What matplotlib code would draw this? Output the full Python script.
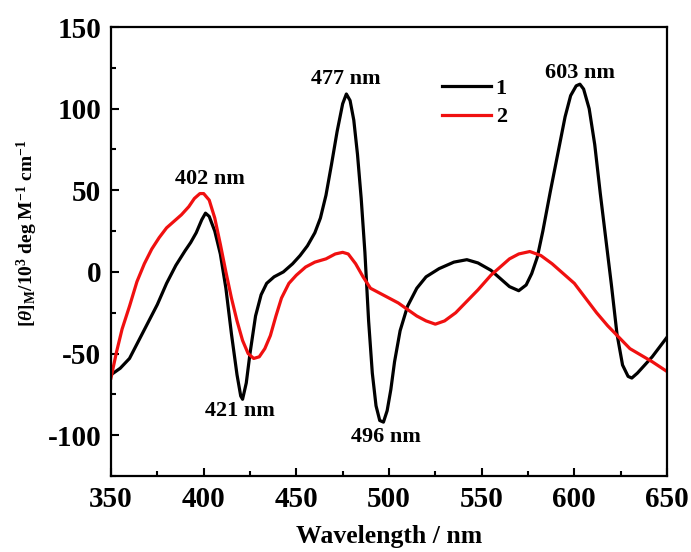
import matplotlib
matplotlib.use("Agg")
import matplotlib.pyplot as plt
from matplotlib.ticker import MultipleLocator

# CD spectra: wavelength (nm) vs molar ellipticity (10^3 deg M^-1 cm^-1)
wl_1 = [350, 355, 360, 365, 370, 375, 380, 385, 390, 393, 396, 399, 401, 403,
        406, 409, 412, 415, 418, 420, 421, 423, 425, 428, 431, 434, 438, 443,
        448, 452, 456, 460, 463, 466, 469, 472, 475, 477, 479, 481, 483, 485,
        487, 489, 491, 493, 495, 497, 499, 501, 503, 506, 510, 515, 520, 527,
        535, 542, 548, 555, 560, 565, 570, 574, 577, 580, 583, 587, 591, 595,
        598, 601, 603, 605, 608, 611, 614, 617, 620, 623, 626, 629, 631, 634,
        638, 642, 646, 650]
theta_1 = [-63, -59, -53, -42, -31, -20, -7, 4, 13, 18, 24, 32, 36, 34,
           25, 11, -10, -38, -63, -76, -78, -68, -50, -27, -14, -7, -3, 0,
           5, 10, 16, 24, 33, 47, 66, 86, 103, 109, 105, 93, 72, 45,
           12, -30, -62, -82, -91, -92, -85, -72, -55, -36, -21, -10, -3, 2,
           6, 7.5, 5.5, 1, -4, -9, -11.5, -8, -1, 9, 25, 49, 72, 95,
           108, 114, 115, 112, 100, 78, 48, 20, -8, -38, -57, -64, -65, -62,
           -57, -52, -46, -40]

wl_2 = [350, 353, 356, 360, 364, 368, 372, 376, 380, 384, 388, 392, 395, 398,
        400, 403, 406, 409, 412, 415, 418, 421, 424, 427, 430, 433, 436, 439,
        442, 446, 450, 455, 460, 466, 471, 475, 478, 482, 486, 490, 495, 500,
        505, 510, 515, 520, 525, 530, 536, 542, 548, 555, 560, 565, 570, 576,
        582, 588, 594, 600, 606, 612, 618, 624, 630, 636, 642, 650]
theta_2 = [-65, -49, -35, -21, -6, 5, 14, 21, 27, 31, 35, 40, 45, 48,
           48, 44, 33, 17, 0, -16, -30, -42, -50, -53, -52, -47, -39, -27,
           -16, -7, -2, 3, 6, 8, 11, 12, 11, 5, -3, -10, -13, -16,
           -19, -23, -27, -30, -32, -30, -25, -18, -11, -2, 3, 8, 11, 12.5,
           10, 5, -1, -7, -16, -25, -33, -40, -47, -51, -55, -61]

series_labels = ["1", "2"]

peak_labels = ["402 nm", "421 nm", "477 nm", "496 nm", "603 nm"]
peak_pos = [(403.5, 57), (419.5, -85), (476.5, 118), (498.5, -101), (603, 122)]

plt.rcParams["font.family"] = ["Liberation Serif", "DejaVu Serif"]
plt.rcParams["font.weight"] = "bold"
plt.rcParams["axes.unicode_minus"] = False
plt.rcParams["mathtext.fontset"] = "custom"
plt.rcParams["mathtext.rm"] = "Liberation Serif:bold"
plt.rcParams["mathtext.bf"] = "Liberation Serif:bold"
plt.rcParams["mathtext.it"] = "Liberation Serif:italic:bold"

fig = plt.figure(figsize=(6.91, 5.52), dpi=100)
ax = fig.add_axes([0.1606, 0.1377, 0.8047, 0.8133])

ax.plot(wl_1, theta_1, color="black", lw=2.3, label=series_labels[0],
        solid_joinstyle="round")
ax.plot(wl_2, theta_2, color="#f01010", lw=2.3, label=series_labels[1],
        solid_joinstyle="round")

ax.set_xlim(350, 650)
ax.set_ylim(-125, 150)
ax.xaxis.set_major_locator(MultipleLocator(50))
ax.xaxis.set_minor_locator(MultipleLocator(25))
ax.yaxis.set_major_locator(MultipleLocator(50))
ax.yaxis.set_minor_locator(MultipleLocator(25))
ax.tick_params(which="both", direction="in", top=False, right=False,
               width=1.5)
ax.tick_params(which="major", length=6, labelsize=21, pad=7)
ax.tick_params(which="minor", length=3.5)
for lab in ax.get_xticklabels() + ax.get_yticklabels():
    lab.set_fontweight("bold")
for sp in ax.spines.values():
    sp.set_linewidth(1.6)

ax.set_xlabel("Wavelength / nm", fontsize=18.5, fontweight="bold", labelpad=9)
ax.set_ylabel(r"$[\mathit{\theta}]_{\mathrm{M}}$/10$^{3}$ deg M$^{-1}$ cm$^{-1}$",
              fontsize=14, fontweight="bold")
ax.yaxis.set_label_coords(-0.128, 0.54)

for txt, (x, y) in zip(peak_labels, peak_pos):
    ax.text(x, y, txt, ha="center", va="center", fontsize=16,
            fontweight="bold")

leg = ax.legend(loc="upper left", bbox_to_anchor=(0.56, 0.93), frameon=False,
                fontsize=16, handlelength=2.2, handletextpad=0.2,
                labelspacing=0.35)
for t in leg.get_texts():
    t.set_fontweight("bold")

fig.savefig("out.png", dpi=100)
